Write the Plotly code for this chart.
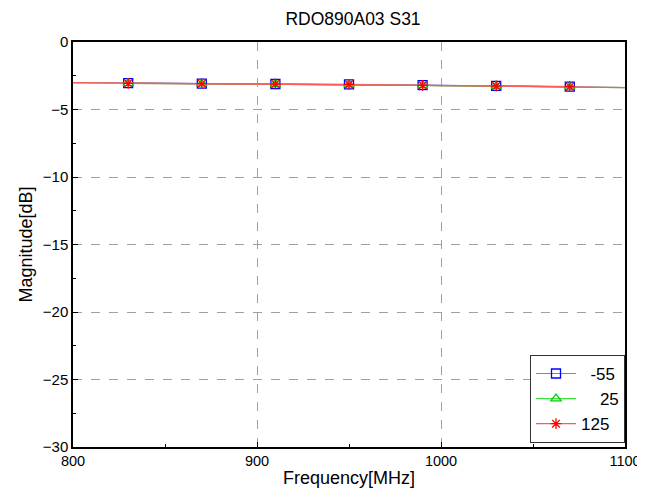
import plotly.graph_objects as go

freq = [800, 830, 870, 910, 950, 990, 1030, 1070, 1100]
mark_freq = [830, 870, 910, 950, 990, 1030, 1070]
s_m55 = [-3.01, -3.05, -3.08, -3.11, -3.14, -3.20, -3.25, -3.31, -3.37]
s_25 = [-3.02, -3.06, -3.09, -3.12, -3.15, -3.21, -3.26, -3.32, -3.38]
s_125 = [-3.01, -3.06, -3.09, -3.11, -3.14, -3.21, -3.26, -3.31, -3.38]
names = ["-55", "25", "125"]
legend_labels = ["\u2007-55", "\u2007\u200725", "125"]

series = [
    (s_m55, "#7878ff", "blue", "square-open"),
    (s_25, "#40e040", "rgb(0,210,0)", "triangle-up-open"),
    (s_125, "#ff5a5a", "red", "asterisk-open"),
]

fig = go.Figure()
for name, lab, (vals, lc, mc, sym) in zip(names, legend_labels, series):
    fig.add_trace(go.Scatter(
        x=freq, y=vals, name=lab, mode="lines", legendgroup=name, showlegend=False,
        line=dict(color=lc, width=1.2), hoverinfo="skip",
    ))
    mvals = [v for f, v in zip(freq, vals) if f in mark_freq]
    fig.add_trace(go.Scatter(
        x=mark_freq, y=mvals, name=lab, mode="lines+markers", legendgroup=name,
        line=dict(color=lc, width=1.2),
        marker=dict(symbol=sym, size=9, color=mc, line=dict(color=mc, width=1.3)),
    ))

axis_common = dict(
    showline=True, linecolor="black", linewidth=1.5, mirror=True,
    ticks="inside", ticklen=5, tickcolor="black",
    showgrid=True, gridcolor="#a0a0a0", griddash="dash", gridwidth=1,
    zeroline=False,
)

# page body has an 8px margin; figure starts at (8, 8)
fig.update_layout(
    width=637, height=487,
    margin=dict(l=65, r=20, t=34, b=48),
    paper_bgcolor="white", plot_bgcolor="white",
    font=dict(family="Liberation Sans, Arial, sans-serif", size=15, color="black"),
    title=dict(text="RDO890A03 S31", x=0.5416, xanchor="center", y=0.977, yanchor="middle",
               font=dict(size=17.5)),
    xaxis=dict(range=[800, 1100], dtick=100, title=dict(text="Frequency[MHz]", standoff=3, font=dict(size=18)),
               minor=dict(dtick=50, ticks="inside", ticklen=3, tickcolor="black", showgrid=False),
               ticklabeloverflow="allow", automargin=False,
               tickfont=dict(size=14.5, color="black"),
               **axis_common),
    yaxis=dict(range=[-30, 0], dtick=5, title=dict(text="Magnitude[dB]", standoff=5, font=dict(size=18)),
               minor=dict(dtick=2.5, ticks="inside", ticklen=3, tickcolor="black", showgrid=False),
               automargin=False, tickfont=dict(size=15, color="black"),
               **axis_common),
    legend=dict(x=1, xanchor="right", y=0.01, yanchor="bottom",
                bordercolor="#333", borderwidth=1, bgcolor="white",
                font=dict(size=17), itemwidth=40, tracegroupgap=0),
    showlegend=True,
)

fig.write_html("out.html", config={"displayModeBar": False})
